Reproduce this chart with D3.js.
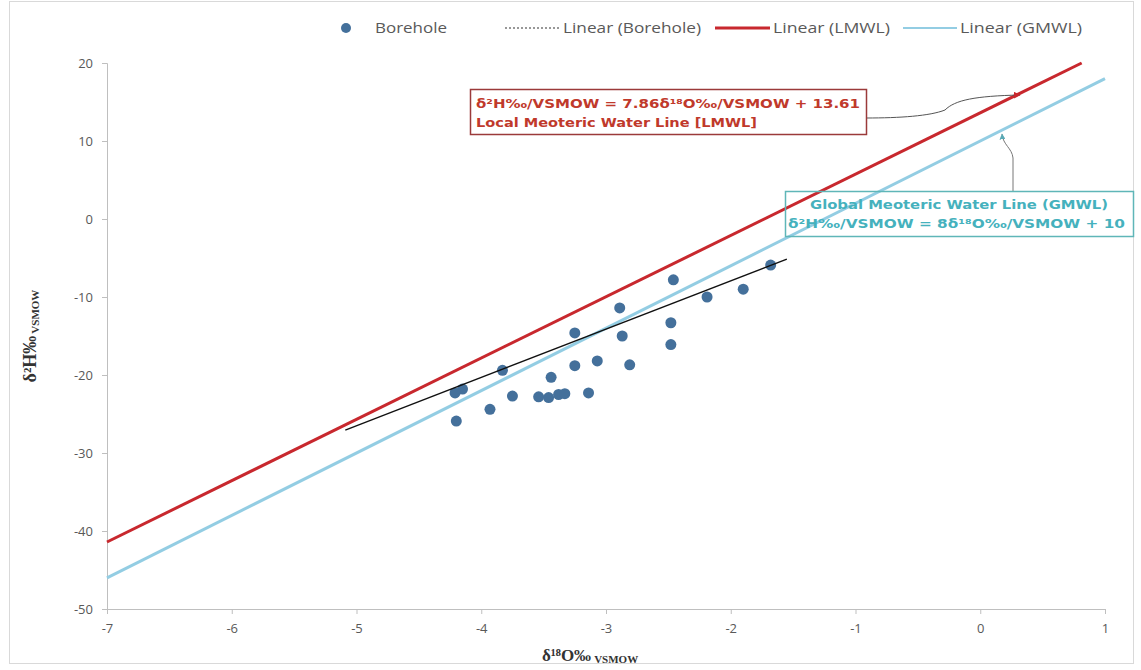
<!DOCTYPE html>
<html>
<head>
<meta charset="utf-8">
<script src="https://cdn.jsdelivr.net/npm/d3@7/dist/d3.min.js"></script>
<style>
  html, body { margin: 0; padding: 0; background: #fff; }
  svg { display: block; }
</style>
</head>
<body>
<svg id="chart" width="1141" height="670"></svg>
<script>
// Borehole samples: δ18O (‰ VSMOW) and δ2H (‰ VSMOW)
const boreholeO18 = [-1.68, -2.46, -2.19, -1.90, -2.89, -2.48, -3.25, -2.87, -2.48, -3.83,
                     -3.25, -3.07, -2.81, -3.44, -4.21, -4.15, -3.75, -3.54, -3.46, -3.38,
                     -3.33, -3.14, -3.93, -4.20];
const boreholeH2  = [-5.9, -7.8, -10.0, -9.0, -11.4, -13.3, -14.6, -15.0, -16.1, -19.4,
                     -18.8, -18.2, -18.7, -20.3, -22.3, -21.8, -22.7, -22.8, -22.9, -22.5,
                     -22.4, -22.3, -24.4, -25.9];

// Meteoric water lines: slope, intercept, x-range
const lmwl = { slope: 7.86, intercept: 13.61, xFrom: -7, xTo: 0.813 };
const gmwl = { slope: 8, intercept: 10, xFrom: -7, xTo: 1 };
// Borehole regression line
const boreTrend = { slope: 6.19, intercept: 4.45, xFrom: -5.09, xTo: -1.55 };

const xTicks = [-7, -6, -5, -4, -3, -2, -1, 0, 1];
const yTicks = [20, 10, 0, -10, -20, -30, -40, -50];

const legendLabels = ["Borehole", "Linear (Borehole)", "Linear (LMWL)", "Linear (GMWL)"];
const lmwlText = ["δ²H‰/VSMOW = 7.86δ¹⁸O‰/VSMOW + 13.61", "Local Meoteric Water Line [LMWL]"];
const gmwlText = ["Global Meoteric Water Line (GMWL)", "δ²H‰/VSMOW = 8δ¹⁸O‰/VSMOW + 10"];

const svg = d3.select("#chart");
const font = "'Open Sans', 'Liberation Sans', sans-serif";
const noteFont = "'DejaVu Sans', 'Open Sans', sans-serif";
const cRed = "#c8282e", cBlue = "#93cde3", cDot = "#44709b", cGrey = "#595959";

// chart frame
svg.append("rect").attr("x", 9.5).attr("y", 1.5).attr("width", 1124).attr("height", 662)
  .attr("fill", "#fff").attr("stroke", "#d9d9d9");

const x = d3.scaleLinear().domain([-7, 1]).range([107, 1105]);
const y = d3.scaleLinear().domain([-50, 20]).range([609, 63]);

// axes
const xAxis = svg.append("g").attr("transform", `translate(0,${y(-50)})`)
  .call(d3.axisBottom(x).tickValues(xTicks).tickSize(5).tickPadding(10).tickFormat(d3.format("d")));
const yAxis = svg.append("g").attr("transform", `translate(${x(-7)},0)`)
  .call(d3.axisLeft(y).tickValues(yTicks).tickSize(5).tickPadding(9).tickFormat(d3.format("d")));
[xAxis, yAxis].forEach(g => {
  g.select(".domain").attr("stroke", "#bfbfbf");
  g.selectAll(".tick line").attr("stroke", "#bfbfbf");
  g.selectAll(".tick text").attr("fill", cGrey).attr("font-family", font).attr("font-size", 13);
});
xAxis.selectAll(".tick text").text(d => d < 0 ? "-" + Math.abs(d) : d);
yAxis.selectAll(".tick text").text(d => d < 0 ? "-" + Math.abs(d) : d);

// axis titles
const serif = "'Liberation Serif', 'DejaVu Serif', serif";
const xt = svg.append("text").attr("x", 590).attr("y", 661).attr("text-anchor", "middle")
  .attr("font-family", serif).attr("font-weight", "bold").attr("fill", "#333");
xt.append("tspan").attr("font-size", 17).text("δ¹⁸O‰");
xt.append("tspan").attr("font-size", 11).attr("dx", 3).attr("dy", 2).text("VSMOW");

const yt = svg.append("text").attr("transform", "translate(36,336) rotate(-90)")
  .attr("text-anchor", "middle")
  .attr("font-family", serif).attr("font-weight", "bold").attr("fill", "#333");
yt.append("tspan").attr("font-size", 18).text("δ²H‰");
yt.append("tspan").attr("font-size", 11).attr("dx", 2).attr("dy", 3).text("VSMOW");

// lines
const lineGen = d3.line().x(d => x(d[0])).y(d => y(d[1]));
function ends(l) {
  return [[l.xFrom, l.slope * l.xFrom + l.intercept], [l.xTo, l.slope * l.xTo + l.intercept]];
}
svg.append("path").attr("d", lineGen(ends(gmwl))).attr("stroke", cBlue).attr("stroke-width", 3).attr("fill", "none");
svg.append("path").attr("d", lineGen(ends(lmwl))).attr("stroke", cRed).attr("stroke-width", 3).attr("fill", "none");

// points
svg.append("g").selectAll("circle").data(boreholeO18.map((v, i) => [v, boreholeH2[i]]))
  .join("circle").attr("cx", d => x(d[0])).attr("cy", d => y(d[1])).attr("r", 5.5)
  .attr("fill", cDot);

svg.append("path").attr("d", lineGen(ends(boreTrend))).attr("stroke", "#111").attr("stroke-width", 1.4).attr("fill", "none");

// legend
const lg = svg.append("g").attr("font-family", font).attr("font-size", 15).attr("fill", cGrey);
function legendText(xPos, len, label) {
  lg.append("text").attr("x", xPos).attr("y", 33).attr("textLength", len)
    .attr("lengthAdjust", "spacingAndGlyphs").text(label);
}
lg.append("circle").attr("cx", 346).attr("cy", 28).attr("r", 5).attr("fill", cDot);
legendText(375, 72, legendLabels[0]);
lg.append("line").attr("x1", 505).attr("x2", 559).attr("y1", 28).attr("y2", 28)
  .attr("stroke", "#777").attr("stroke-width", 1.5).attr("stroke-dasharray", "2,2");
legendText(563, 138, legendLabels[1]);
lg.append("line").attr("x1", 715).attr("x2", 770).attr("y1", 28).attr("y2", 28)
  .attr("stroke", cRed).attr("stroke-width", 3);
legendText(773, 117, legendLabels[2]);
lg.append("line").attr("x1", 903).attr("x2", 957).attr("y1", 28).attr("y2", 28)
  .attr("stroke", cBlue).attr("stroke-width", 2);
legendText(960, 122, legendLabels[3]);

// annotation: LMWL
const defs = svg.append("defs");
defs.append("marker").attr("id", "arrRed").attr("viewBox", "0 0 10 10").attr("refX", 9).attr("refY", 5)
  .attr("markerWidth", 7).attr("markerHeight", 7).attr("orient", "auto")
  .append("path").attr("d", "M0,0 L10,5 L0,10 z").attr("fill", cRed);
defs.append("marker").attr("id", "arrBlue").attr("viewBox", "0 0 10 10").attr("refX", 9).attr("refY", 5)
  .attr("markerWidth", 6).attr("markerHeight", 6).attr("orient", "auto")
  .append("path").attr("d", "M0,0 L10,5 L0,10 z").attr("fill", "#5aa9b5");

svg.append("path").attr("d", "M866,118 C900,118 930,116 945,110 C955,100 975,96 1020,95")
  .attr("fill", "none").attr("stroke", "#555").attr("stroke-width", 1).attr("marker-end", "url(#arrRed)");
svg.append("rect").attr("x", 470.5).attr("y", 89.5).attr("width", 396).attr("height", 45)
  .attr("fill", "#fff").attr("stroke", "#9b3a3a").attr("stroke-width", 1.5);
const lmwlLens = [384, 281];
svg.append("text").attr("font-family", noteFont).attr("font-weight", "bold").attr("font-size", 13)
  .attr("fill", "#c0392b")
  .selectAll("tspan").data(lmwlText).join("tspan")
  .attr("x", 476).attr("y", (d, i) => 108 + i * 19)
  .attr("textLength", (d, i) => lmwlLens[i]).attr("lengthAdjust", "spacingAndGlyphs")
  .text(d => d);

// annotation: GMWL
svg.append("path").attr("d", "M1013,191 L1013,158 C1012,148 1003,145 1002,134")
  .attr("fill", "none").attr("stroke", "#777").attr("stroke-width", 1).attr("marker-end", "url(#arrBlue)");
svg.append("rect").attr("x", 785.5).attr("y", 191.5).attr("width", 348).attr("height", 45)
  .attr("fill", "none").attr("stroke", "#5fb6b8").attr("stroke-width", 1.5);
const gmwlX = [810, 788], gmwlLens = [298, 337];
svg.append("text").attr("font-family", noteFont).attr("font-weight", "bold").attr("font-size", 13)
  .attr("fill", "#45b1bd")
  .selectAll("tspan").data(gmwlText).join("tspan")
  .attr("x", (d, i) => gmwlX[i]).attr("y", (d, i) => 209 + i * 19)
  .attr("textLength", (d, i) => gmwlLens[i]).attr("lengthAdjust", "spacingAndGlyphs")
  .text(d => d);
</script>
</body>
</html>
